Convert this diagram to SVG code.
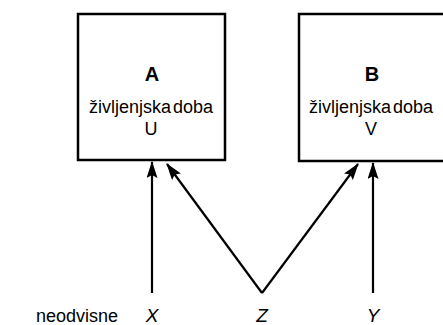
<svg xmlns="http://www.w3.org/2000/svg" width="443" height="325" viewBox="0 0 443 325">
  <style>
    .box { fill: #ffffff; stroke: #000000; stroke-width: 2.5; }
    .title { font-family: "Liberation Sans", Arial, sans-serif; font-size: 20px; font-weight: bold; text-anchor: middle; fill: #000; }
    .sub { font-family: "Liberation Sans", Arial, sans-serif; font-size: 18px; text-anchor: middle; fill: #000; word-spacing: -3px; }
    .var { font-family: "Liberation Sans", Arial, sans-serif; font-size: 19px; font-style: italic; text-anchor: middle; fill: #000; }
    .lbl { font-family: "Liberation Sans", Arial, sans-serif; font-size: 18px; fill: #000; }
    .edge { stroke: #000; stroke-width: 2.2; fill: none; marker-end: url(#head); }
  </style>
  <defs>
    <marker id="head" viewBox="0 0 17 11" refX="16" refY="5.5" markerWidth="17" markerHeight="11" markerUnits="userSpaceOnUse" orient="auto">
      <path d="M0,0 L17,5.5 L0,11 L3,5.5 Z" fill="#000"/>
    </marker>
  </defs>

  <g id="node-A">
    <rect class="box" x="78" y="14" width="147" height="146"/>
    <text class="title" x="152" y="81">A</text>
    <text class="sub" x="151" y="113">življenjska doba</text>
    <text class="sub" x="151" y="135">U</text>
  </g>

  <g id="node-B">
    <rect class="box" x="299" y="14" width="147" height="147"/>
    <text class="title" x="372" y="81">B</text>
    <text class="sub" x="371" y="113">življenjska doba</text>
    <text class="sub" x="371" y="135">V</text>
  </g>

  <g id="connectors">
    <line class="edge" x1="152" y1="293" x2="152" y2="162"/>
    <line class="edge" x1="262" y1="293" x2="167" y2="164"/>
    <line class="edge" x1="262" y1="293" x2="358" y2="164"/>
    <line class="edge" x1="373" y1="293" x2="373" y2="163"/>
  </g>

  <g id="labels">
    <text class="lbl" x="36" y="322">neodvisne</text>
    <text class="var" x="152" y="322">X</text>
    <text class="var" x="262" y="322">Z</text>
    <text class="var" x="373" y="322">Y</text>
  </g>
</svg>
